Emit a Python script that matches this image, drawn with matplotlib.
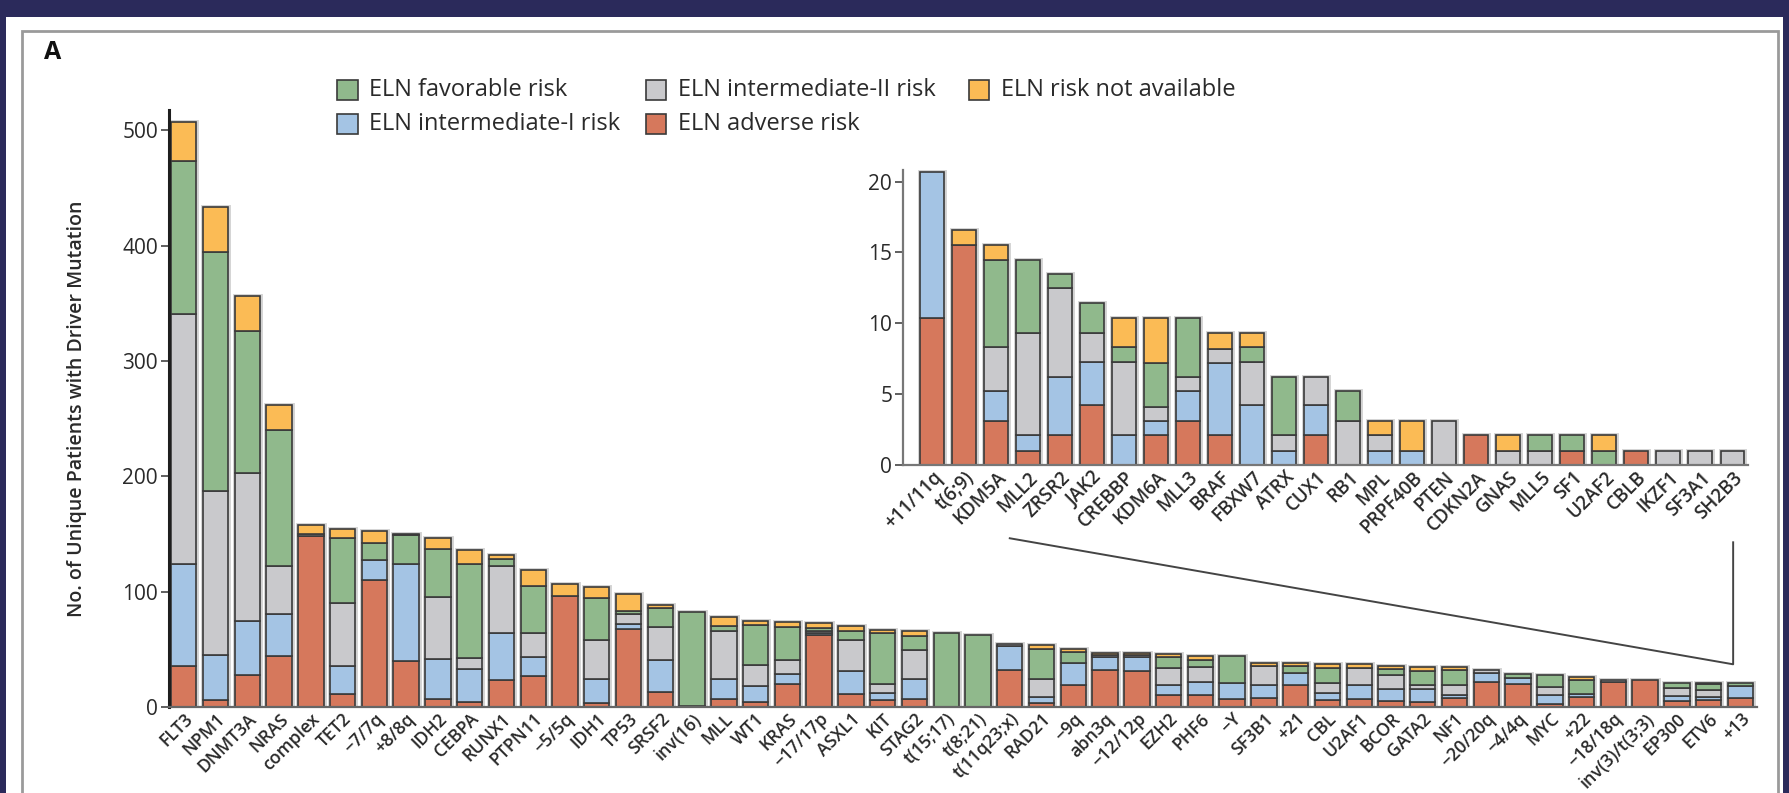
import matplotlib.pyplot as plt
import numpy as np
from matplotlib.patches import Rectangle

plt.rcParams['font.family'] = ['Open Sans', 'DejaVu Sans']

# ELN risk groups, stacked from the bottom up
risk_labels = ['ELN adverse risk', 'ELN intermediate-I risk', 'ELN intermediate-II risk',
               'ELN favorable risk', 'ELN risk not available']
risk_colors = ['#d6785c', '#a4c4e4', '#c9c9cc', '#90b98c', '#fbbb55']

# driver lesions with the most patients
drivers = ['FLT3', 'NPM1', 'DNMT3A', 'NRAS', 'complex', 'TET2', '\u22127/7q', '+8/8q', 'IDH2',
           'CEBPA', 'RUNX1', 'PTPN11', '\u22125/5q', 'IDH1', 'TP53', 'SRSF2', 'inv(16)', 'MLL',
           'WT1', 'KRAS', '\u221217/17p', 'ASXL1', 'KIT', 'STAG2', 't(15;17)', 't(8;21)',
           't(11q23;x)', 'RAD21', '\u22129q', 'abn3q', '\u221212/12p', 'EZH2', 'PHF6', '\u2212Y',
           'SF3B1', '+21', 'CBL', 'U2AF1', 'BCOR', 'GATA2', 'NF1', '\u221220/20q', '\u22124/4q',
           'MYC', '+22', '\u221218/18q', 'inv(3)/t(3;3)', 'EP300', 'ETV6', '+13']
adverse = [35.6, 6.4, 27.5, 44.5, 148.3, 11.0, 110.0, 40.0, 6.8, 4.0, 23.7, 27.0, 96.2, 3.5,
           67.9, 13.0, 0.8, 7.0, 4.3, 19.7, 62.2, 11.6, 6.4, 7.0, 0, 0, 32.0, 3.5, 19.4, 32.4,
           30.9, 10.1, 10.1, 6.6, 8.1, 19.4, 5.8, 7.2, 5.2, 4.3, 8.1, 21.7, 19.7, 2.9, 8.7,
           21.7, 23.1, 5.2, 5.8, 8.1]
intermediate_1 = [88.7, 39.0, 47.1, 36.5, 0, 24.6, 17.2, 84.3, 35.1, 29.2, 40.6, 16.4, 0, 20.5,
                  4.4, 28.0, 0, 17.4, 13.7, 8.6, 2.0, 19.3, 5.7, 17.3, 0, 0, 20.6, 5.5, 18.8,
                  11.0, 12.5, 9.3, 11.6, 14.5, 11.3, 10.1, 6.3, 11.6, 10.7, 11.6, 2.0, 8.1, 5.7,
                  7.2, 2.9, 0, 0, 4.1, 2.9, 9.8]
intermediate_2 = [216.7, 141.9, 128.4, 41.6, 2.0, 54.9, 0, 0, 53.5, 9.6, 57.9, 21.1, 0, 34.4,
                  8.1, 28.4, 0, 41.8, 18.1, 12.2, 1.4, 27.5, 8.1, 25.4, 0, 0, 2.3, 15.6, 0, 2.0,
                  2.0, 14.7, 13.0, 0, 15.9, 0, 8.7, 15.3, 12.1, 2.9, 8.7, 2.0, 0, 7.2, 0, 2.0,
                  0, 7.5, 6.4, 0]
favorable = [132.5, 207.3, 122.8, 117.4, 0, 56.4, 15.0, 24.6, 41.9, 81.5, 5.8, 40.5, 0, 36.1,
             2.6, 16.5, 81.2, 3.8, 34.7, 28.9, 2.9, 7.2, 44.0, 11.6, 64.5, 62.7, 0, 26.0, 9.5,
             0, 0, 9.3, 6.3, 22.8, 0, 5.8, 13.3, 0, 5.2, 12.4, 13.6, 0, 3.5, 10.2, 11.5, 0, 0,
             4.3, 4.4, 3.2]
not_available = [33.5, 39.0, 30.2, 22.0, 7.3, 7.8, 10.2, 1.4, 9.6, 11.9, 4.2, 13.5, 10.6, 9.5,
                 14.7, 2.9, 0, 7.8, 3.9, 4.3, 4.6, 4.4, 2.3, 4.6, 0, 0, 0, 2.9, 2.9, 1.7, 1.7,
                 2.9, 2.9, 0, 2.9, 2.9, 2.9, 2.9, 2.1, 3.5, 2.3, 0, 0, 0, 2.9, 0, 0, 0, 1.6, 0]

# rarer lesions, shown in the inset
inset_drivers = ['+11/11q', 't(6;9)', 'KDM5A', 'MLL2', 'ZRSR2', 'JAK2', 'CREBBP', 'KDM6A',
                 'MLL3', 'BRAF', 'FBXW7', 'ATRX', 'CUX1', 'RB1', 'MPL', 'PRPF40B', 'PTEN',
                 'CDKN2A', 'GNAS', 'MLL5', 'SF1', 'U2AF2', 'CBLB', 'IKZF1', 'SF3A1', 'SH2B3']
inset_adverse = [10.4, 15.5, 3.1, 1.0, 2.1, 4.2, 0, 2.1, 3.1, 2.1, 0, 0, 2.1, 0, 0, 0, 0, 2.1,
                 0, 0, 1.0, 0, 1.0, 0, 0, 0]
inset_int1 = [10.3, 0, 2.1, 1.1, 4.1, 3.1, 2.1, 1.0, 2.1, 5.1, 4.2, 1.0, 2.1, 0, 1.0, 1.0, 0,
              0, 0, 0, 0, 0, 0, 0, 0, 0]
inset_int2 = [0, 0, 3.1, 7.2, 6.3, 2.0, 5.2, 1.0, 1.0, 1.0, 3.1, 1.1, 2.0, 3.1, 1.1, 0, 3.1, 0,
              1.0, 1.0, 0, 0, 0, 1.0, 1.0, 1.0]
inset_fav = [0, 0, 6.2, 5.2, 1.0, 2.1, 1.0, 3.1, 4.2, 0, 1.0, 4.1, 0, 2.1, 0, 0, 0, 0, 0, 1.1,
             1.1, 1.0, 0, 0, 0, 0]
inset_na = [0, 1.1, 1.0, 0, 0, 0, 2.1, 3.2, 0, 1.1, 1.0, 0, 0, 0, 1.0, 2.1, 0, 0, 1.1, 0, 0,
            1.1, 0, 0, 0, 0]

TEXT = '#2a2a2a'
EDGE = '#3a3a3a'


def draw_stack(ax, layers, names, width, label_size):
    x = np.arange(len(names))
    layers = [np.asarray(v, dtype=float) for v in layers]
    total = np.sum(layers, axis=0)
    # pale halo around each column
    ax.bar(x, total, width, color='none', edgecolor='#d2d2d2', linewidth=3.5, zorder=1)
    base = np.zeros(len(x))
    for vals, color in zip(layers, risk_colors):
        keep = vals > 0
        ax.bar(x[keep], vals[keep], width, bottom=base[keep], color=color,
               edgecolor=EDGE, linewidth=1.2, zorder=2)
        base += vals
    ax.set_xticks(x)
    ax.set_xticklabels(names, rotation=45, ha='right', va='top', rotation_mode='anchor',
                       fontsize=label_size, color=TEXT, fontweight='semibold')
    ax.tick_params(axis='x', length=0, pad=2)
    ax.tick_params(axis='y', length=6, width=1.2, color='#444', labelsize=15,
                   labelcolor=TEXT, pad=2)
    for side in ('top', 'right'):
        ax.spines[side].set_visible(False)


fig = plt.figure(figsize=(17.89, 7.93), dpi=100, facecolor='#2b2a5b')

# white page with a thin grey panel border, kept behind the axes
fig.patches.append(Rectangle((0.0034, -0.01), 0.9932, 0.9886, transform=fig.transFigure,
                             figure=fig, facecolor='white', edgecolor='none', zorder=-2))
fig.patches.append(Rectangle((0.0125, -0.05), 0.9814, 1.011, transform=fig.transFigure,
                             figure=fig, facecolor='none', edgecolor='#9a9a9a',
                             linewidth=2, zorder=-1))

ax = fig.add_axes([0.0945, 0.1085, 0.8876, 0.7532])
ax.patch.set_alpha(0)
draw_stack(ax, [adverse, intermediate_1, intermediate_2, favorable, not_available],
           drivers, 0.8, 12.8)
ax.set_xlim(-0.463, 49.52)
ax.set_ylim(0, 518)
ax.set_yticks([0, 100, 200, 300, 400, 500])
ax.spines['left'].set_linewidth(2.2)
ax.spines['left'].set_color('#1e1e1e')
ax.spines['bottom'].set_linewidth(1.6)
ax.spines['bottom'].set_color('#666')
ax.set_ylabel('No. of Unique Patients with Driver Mutation', fontsize=14, color=TEXT,
              fontweight='semibold')
ax.yaxis.set_label_coords(-0.0516, 0.5)

# pointer from the tail of the main chart up to the inset
ax.plot([26.0, 48.77, 48.77], [146.3, 37.0, 142.8], color='#444', linewidth=1.4,
        clip_on=False, zorder=3)

axin = fig.add_axes([0.5049, 0.4136, 0.4722, 0.3717])
axin.patch.set_alpha(0)
draw_stack(axin, [inset_adverse, inset_int1, inset_int2, inset_fav, inset_na],
           inset_drivers, 0.74, 13.5)
axin.set_xlim(-0.9, 25.49)
axin.set_ylim(0, 20.8)
axin.set_yticks([0, 5, 10, 15, 20])
for side in ('left', 'bottom'):
    axin.spines[side].set_linewidth(1.6)
    axin.spines[side].set_color('#777')

# legend, laid out in three columns
legend_cols = [0.1885, 0.361, 0.5415]
legend_rows = [0.8865, 0.8435]
legend_order = [(3, 0, 0), (1, 0, 1), (2, 1, 0), (0, 1, 1), (4, 2, 0)]
for k, col, row in legend_order:
    fig.patches.append(Rectangle((legend_cols[col], legend_rows[row] - 0.0125), 0.0115, 0.025,
                                 transform=fig.transFigure, figure=fig,
                                 facecolor=risk_colors[k], edgecolor=EDGE, linewidth=1.2,
                                 zorder=2))
    fig.text(legend_cols[col] + 0.0178, legend_rows[row], risk_labels[k], fontsize=17,
             color=TEXT, va='center', ha='left')

fig.text(0.0245, 0.9335, 'A', fontsize=18, fontweight='bold', color='#111', va='center')

fig.savefig('out.png', dpi=100, facecolor=fig.get_facecolor())
